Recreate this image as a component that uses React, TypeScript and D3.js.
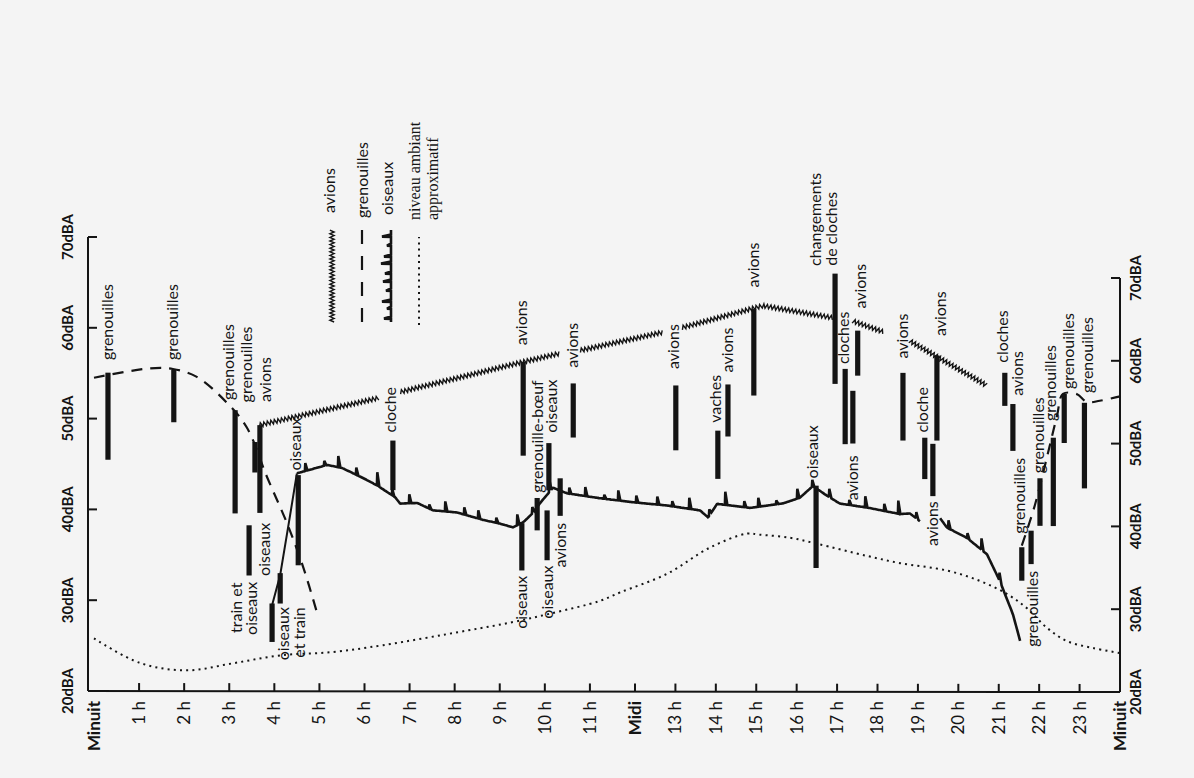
import React from 'react';
import * as d3 from 'd3';

type P = [number, number];

// ---------- DATA ----------
const hourLabels = ['Minuit','1 h','2 h','3 h','4 h','5 h','6 h','7 h','8 h','9 h','10 h','11 h','Midi','13 h','14 h','15 h','16 h','17 h','18 h','19 h','20 h','21 h','22 h','23 h','Minuit'];
const dbTicks = [20, 30, 40, 50, 60, 70];

// avions (zigzag) – [hour, dBA]
const avionsSegments: P[][] = [
  [[3.66, 49.7], [6.34, 53.1]],
  [[6.79, 53.8], [9.52, 57.6], [10.34, 58.7]],
  [[10.78, 59.1], [12.69, 61.5]],
  [[13.16, 62.1], [15.02, 64.8], [15.17, 65.0], [16.9, 63.9]],
  [[17.39, 63.6], [18.18, 62.4]],
  [[18.8, 61.5], [20.71, 56.5]],
];

// grenouilles (dashed)
const grenouillesSegments: P[][] = [
  [[0, 54.5], [1.24, 55.7], [1.75, 55.7], [2.28, 54.9], [2.95, 52.1], [3.39, 49.4], [3.84, 43.9], [4.28, 38.8], [4.64, 33.9], [4.95, 28.75]],
  [[21.57, 37.5], [21.89, 42.3], [22.19, 48.1], [22.44, 53.1], [22.59, 55.8], [22.94, 55.8], [23.18, 54.9], [23.5, 55.1], [24, 55.7]],
];

// oiseaux (spiky line)
const oiseauxRise: P[] = [[3.95, 29.6], [4.13, 33.0], [4.35, 39.7], [4.5, 44.4]];
const oiseauxSegments: P[][] = [
  [[4.5, 44.4], [5.17, 45.4], [5.5, 45.1], [5.97, 44.0], [6.28, 43.2], [6.68, 41.9], [6.79, 41.2], [7.17, 41.3], [7.52, 40.5], [8.05, 40.3], [8.63, 39.5], [9.01, 39.1], [9.29, 38.7], [9.52, 39.3], [9.74, 40.4], [9.89, 41.5], [10.18, 43.3], [10.49, 42.7], [11.22, 42.2], [11.95, 41.8], [12.79, 41.5], [13.61, 41.0], [13.81, 40.2], [14.03, 41.8], [14.85, 41.4], [15.66, 42.0], [16.08, 42.7], [16.4, 44.1], [16.75, 43.0], [17.07, 42.1], [17.74, 41.7], [18.56, 41.0], [18.8, 41.1], [19.05, 40.2]],
  [[19.55, 40.6], [19.72, 39.5], [20.22, 38.3], [20.71, 36.4], [21.03, 33.2], [21.35, 29.3], [21.53, 26.1]],
];

// niveau ambiant approximatif (dotted)
const ambiant: P[] = [[0, 25.8], [1.02, 23.1], [2.06, 22.3], [3.08, 23.1], [4.13, 24.0], [5.3, 24.4], [6.41, 25.2], [8.27, 26.9], [9.29, 27.9], [10.12, 28.9], [11.22, 30.4], [11.67, 31.4], [12.79, 33.6], [13.85, 36.7], [14.77, 38.4], [15.09, 38.3], [15.83, 38.0], [16.5, 37.35], [17.74, 36.0], [18.56, 35.2], [19.72, 34.4], [20.54, 33.2], [21.2, 31.7], [21.7, 30.0], [22.19, 27.7], [22.69, 26.1], [23.33, 25.3], [24, 24.7]];

// event bars: hour, top dBA, bottom dBA
const eventHours = [0.31, 1.77, 3.13, 3.57, 3.68, 3.44, 3.95, 4.13, 4.53, 6.63, 9.52, 9.49, 9.83, 10.05, 10.09, 10.34, 10.63, 13.01, 14.05, 14.3, 14.94, 16.48, 16.95, 17.2, 17.39, 17.51, 18.63, 19.17, 19.37, 19.47, 21.15, 21.35, 21.57, 21.8, 22.02, 22.35, 22.62, 23.12];
const eventTop = [55.1, 55.6, 51.3, 47.8, 49.7, 38.5, 29.8, 33.2, 44.2, 48.3, 57.6, 39.2, 42.1, 40.7, 48.4, 44.4, 55.3, 55.4, 50.3, 55.7, 64.6, 44.15, 69.1, 57.95, 55.4, 62.5, 57.7, 50.1, 49.4, 59.9, 58.1, 54.4, 37.3, 39.3, 45.6, 50.5, 55.8, 54.8];
const eventBottom = [45.5, 49.8, 39.8, 44.4, 39.9, 32.9, 25.5, 29.8, 34.1, 42.7, 46.9, 33.8, 38.4, 35.0, 43.0, 40.1, 49.1, 47.9, 44.7, 49.65, 54.5, 34.5, 56.15, 49.1, 49.2, 57.2, 49.7, 45.2, 43.2, 49.8, 54.15, 48.8, 33.3, 35.3, 39.9, 39.9, 49.9, 44.5];

// annotations: hour, dBA, text, anchored at its lower end ('start') or upper end ('end')
const labels: { h: number; db: number; text: string; anchor: 'start' | 'end' }[] = [
  { h: 0.29, db: 56.5, text: 'grenouilles', anchor: 'start' },
  { h: 1.73, db: 56.7, text: 'grenouilles', anchor: 'start' },
  { h: 2.97, db: 52.4, text: 'grenouilles', anchor: 'start' },
  { h: 3.37, db: 52.2, text: 'grenouilles', anchor: 'start' },
  { h: 3.79, db: 52.3, text: 'avions', anchor: 'start' },
  { h: 3.77, db: 38.8, text: 'oiseaux', anchor: 'end' },
  { h: 3.15, db: 32.1, text: 'train et', anchor: 'end' },
  { h: 3.5, db: 32.2, text: 'oiseaux', anchor: 'end' },
  { h: 4.21, db: 29.4, text: 'oiseaux', anchor: 'end' },
  { h: 4.55, db: 29.4, text: 'et train', anchor: 'end' },
  { h: 4.46, db: 44.7, text: 'oiseaux', anchor: 'start' },
  { h: 6.57, db: 49.2, text: 'cloche', anchor: 'start' },
  { h: 9.49, db: 59.5, text: 'avions', anchor: 'start' },
  { h: 9.49, db: 33.2, text: 'oiseaux', anchor: 'end' },
  { h: 9.83, db: 42.7, text: 'grenouille-bœuf', anchor: 'start' },
  { h: 10.05, db: 34.4, text: 'oiseaux', anchor: 'end' },
  { h: 10.14, db: 49.6, text: 'oiseaux', anchor: 'start' },
  { h: 10.34, db: 39.3, text: 'avions', anchor: 'end' },
  { h: 10.6, db: 57.1, text: 'avions', anchor: 'start' },
  { h: 12.96, db: 57.3, text: 'avions', anchor: 'start' },
  { h: 13.98, db: 51.2, text: 'vaches', anchor: 'start' },
  { h: 14.28, db: 57.1, text: 'avions', anchor: 'start' },
  { h: 14.92, db: 67.1, text: 'avions', anchor: 'start' },
  { h: 16.4, db: 45.0, text: 'oiseaux', anchor: 'start' },
  { h: 16.45, db: 69.9, text: 'changements', anchor: 'start' },
  { h: 16.87, db: 70.0, text: 'de cloches', anchor: 'start' },
  { h: 17.15, db: 58.5, text: 'cloches', anchor: 'start' },
  { h: 17.39, db: 47.8, text: 'avions', anchor: 'end' },
  { h: 17.57, db: 65.1, text: 'avions', anchor: 'start' },
  { h: 18.61, db: 59.4, text: 'avions', anchor: 'start' },
  { h: 19.1, db: 50.7, text: 'cloche', anchor: 'start' },
  { h: 19.35, db: 42.6, text: 'avions', anchor: 'end' },
  { h: 19.55, db: 62.2, text: 'avions', anchor: 'start' },
  { h: 21.1, db: 59.3, text: 'cloches', anchor: 'start' },
  { h: 21.45, db: 55.4, text: 'avions', anchor: 'start' },
  { h: 21.52, db: 38.9, text: 'grenouilles', anchor: 'start' },
  { h: 21.82, db: 34.5, text: 'grenouilles', anchor: 'end' },
  { h: 21.97, db: 46.2, text: 'grenouilles', anchor: 'start' },
  { h: 22.27, db: 52.5, text: 'grenouilles', anchor: 'start' },
  { h: 22.72, db: 56.4, text: 'grenouilles', anchor: 'start' },
  { h: 23.19, db: 56.0, text: 'grenouilles', anchor: 'start' },
];

const legendNames = ['avions', 'grenouilles', 'oiseaux'];
const legendAmbiant = ['niveau ambiant', 'approximatif'];

// ---------- SCALES ----------
const W = 1194, H = 778;
const x = d3.scaleLinear().domain([0, 12, 24]).range([94, 635, 1120]);
const yLeft = d3.scaleLinear().domain([20, 70]).range([691, 237]);
const yRight = d3.scaleLinear().domain([20, 70]).range([692, 278]);
const yAt = (h: number, v: number) => {
  const t = Math.max(0, Math.min(1, h / 24));
  return yLeft(v) * (1 - t) + yRight(v) * t;
};
const toPx = (p: P): P => [x(p[0]), yAt(p[0], p[1])];

const smooth = d3.line<P>().x(d => d[0]).y(d => d[1]).curve(d3.curveCatmullRom.alpha(0.5));

const INK = '#141414';
const LABEL_FONT = "Lato, 'Open Sans', sans-serif";

function zigzagPath(pts: P[], amp: number, step: number): string {
  const segs: { x0: number; y0: number; x1: number; y1: number; len: number; start: number }[] = [];
  let total = 0;
  for (let i = 1; i < pts.length; i++) {
    const [x0, y0] = pts[i - 1], [x1, y1] = pts[i];
    const len = Math.hypot(x1 - x0, y1 - y0);
    segs.push({ x0, y0, x1, y1, len, start: total });
    total += len;
  }
  let d = '';
  let side = 1;
  for (let s = 0; s <= total; s += step) {
    const seg = segs.find(g => s <= g.start + g.len) || segs[segs.length - 1];
    const f = (s - seg.start) / seg.len;
    const xx = seg.x0 + (seg.x1 - seg.x0) * f, yy = seg.y0 + (seg.y1 - seg.y0) * f;
    const nx = -(seg.y1 - seg.y0) / seg.len, ny = (seg.x1 - seg.x0) / seg.len;
    d += (d ? 'L' : 'M') + (xx + nx * amp * side).toFixed(1) + ',' + (yy + ny * amp * side).toFixed(1);
    side = -side;
  }
  return d;
}

const SPIKE_GAPS = [14, 17, 12, 16, 19, 13, 15, 18];
const SPIKE_HEIGHTS = [8, 5, 11, 7, 13, 6, 9, 4, 10, 7];
const LEGEND_GAPS = [6, 8, 5, 9, 7];
const LEGEND_HEIGHTS = [7, 4, 9, 5, 8, 6, 10];

function spikyPath(pts: P[], first: number, gaps = SPIKE_GAPS, heights = SPIKE_HEIGHTS): string {
  const x0 = pts[0][0], x1 = pts[pts.length - 1][0];
  const yOf = (xx: number) => {
    for (let i = 1; i < pts.length; i++) {
      if (xx <= pts[i][0]) {
        const a = pts[i - 1], b = pts[i];
        const f = (xx - a[0]) / ((b[0] - a[0]) || 1);
        return a[1] + (b[1] - a[1]) * f;
      }
    }
    return pts[pts.length - 1][1];
  };
  let d = `M${x0.toFixed(1)},${yOf(x0).toFixed(1)}`;
  let next = x0 + first;
  let k = 0;
  for (let xx = x0 + 1; xx <= x1; xx += 1) {
    if (xx >= next && xx + 3 <= x1) {
      const yy = yOf(xx);
      const h = heights[k % heights.length];
      d += `L${xx.toFixed(1)},${yy.toFixed(1)}L${(xx + 0.4).toFixed(1)},${(yy - h).toFixed(1)}L${(xx + 2.5).toFixed(1)},${yOf(xx + 2.5).toFixed(1)}`;
      xx += 2;
      k++;
      next = xx + gaps[k % gaps.length];
    } else {
      d += `L${xx.toFixed(1)},${yOf(xx).toFixed(1)}`;
    }
  }
  return d;
}

function VText({ cx, cy, text, anchor, size = 16, weight = 400, family = LABEL_FONT }: { cx: number; cy: number; text: string; anchor: string; size?: number; weight?: number; family?: string }) {
  return (
    <text transform={`translate(${cx.toFixed(1)},${cy.toFixed(1)}) rotate(-90)`} textAnchor={anchor} dy="0.35em"
      fontFamily={family} fontSize={size} fontWeight={weight} fill={INK}>{text}</text>
  );
}

export default function App() {
  const hours = d3.range(0, 25);
  const bars = eventHours.map((h, i) => ({ h, top: eventTop[i], bottom: eventBottom[i] }));

  // legend oiseaux sample drawn horizontally then rotated
  const legendOiseaux = spikyPath([[0, 0], [92, 0]], 3, LEGEND_GAPS, LEGEND_HEIGHTS);

  return (
    <div style={{ position: 'absolute', left: 0, top: 0, width: W, height: H }}>
      <svg width={W} height={H} style={{ display: 'block' }}>
        <rect x={0} y={0} width={W} height={H} fill="#f4f4f4" />

        {/* axes */}
        <g stroke={INK} strokeWidth={2} fill="none">
          <line x1={x(0) - 6} y1={yLeft(70)} x2={x(0) - 6} y2={yLeft(20)} />
          <line x1={x(24)} y1={yRight(70)} x2={x(24)} y2={yRight(20)} />
          <line x1={x(0) - 6} y1={yLeft(20)} x2={x(24)} y2={yRight(20)} />
          {dbTicks.filter(v => v > 20).map(v => (
            <line key={'tl' + v} x1={x(0) - 6} x2={x(0) + 3} y1={yLeft(v)} y2={yLeft(v)} />
          ))}
          {dbTicks.filter(v => v > 20).map(v => (
            <line key={'tr' + v} x1={x(24)} x2={x(24) - 9} y1={yRight(v)} y2={yRight(v)} />
          ))}
          {hours.slice(1, 24).map(h => (
            <line key={'th' + h} x1={x(h)} x2={x(h)} y1={yAt(h, 20)} y2={yAt(h, 20) - 8} />
          ))}
        </g>

        {/* axis labels */}
        {dbTicks.map(v => (
          <VText key={'ll' + v} cx={68} cy={yLeft(v)} text={`${v}dBA`} anchor="middle" size={15} weight={700} />
        ))}
        {dbTicks.map(v => (
          <VText key={'rl' + v} cx={1136} cy={yRight(v)} text={`${v}dBA`} anchor="middle" size={15} weight={700} />
        ))}
        {hours.map(h => (
          <VText key={'hl' + h} cx={x(h)} cy={701} text={hourLabels[h]} anchor="end" size={17}
            weight={hourLabels[h].indexOf('h') < 0 ? 700 : 400} />
        ))}

        {/* ambient dotted */}
        <path d={smooth(ambiant.map(toPx)) || ''} fill="none" stroke={INK} strokeWidth={2} strokeDasharray="2 4.2" />

        {/* grenouilles dashed */}
        {grenouillesSegments.map((s, i) => (
          <path key={'g' + i} d={smooth(s.map(toPx)) || ''} fill="none" stroke={INK} strokeWidth={2.2} strokeDasharray="11 8" />
        ))}

        {/* avions zigzag */}
        {avionsSegments.map((s, i) => (
          <path key={'a' + i} d={zigzagPath(s.map(toPx), 2.1, 1.8)} fill="none" stroke={INK} strokeWidth={1.4} />
        ))}

        {/* oiseaux */}
        <path d={d3.line()(oiseauxRise.map(toPx)) || ''} fill="none" stroke={INK} strokeWidth={2} />
        {oiseauxSegments.map((s, i) => (
          <path key={'o' + i} d={spikyPath(s.map(toPx), i === 0 ? 8 : 8)} fill="none" stroke={INK} strokeWidth={2.6}
            strokeLinejoin="miter" strokeMiterlimit={2} />
        ))}

        {/* event bars */}
        {bars.map((b, i) => {
          const bx = x(b.h);
          const y1 = yAt(b.h, b.top), y2 = yAt(b.h, b.bottom);
          return <rect key={'b' + i} x={bx - 2.6} y={y1} width={5.2} height={y2 - y1} fill={INK} />;
        })}

        {/* annotations */}
        {labels.map((l, i) => (
          <VText key={'lab' + i} cx={x(l.h)} cy={yAt(l.h, l.db)} text={l.text} anchor={l.anchor} />
        ))}

        {/* legend */}
        <VText cx={329} cy={213} text={legendNames[0]} anchor="start" />
        <VText cx={362} cy={218} text={legendNames[1]} anchor="start" />
        <VText cx={387} cy={215} text={legendNames[2]} anchor="start" />
        <VText cx={414} cy={220} text={legendAmbiant[0]} anchor="start" size={16} family="'Liberation Serif', serif" />
        <VText cx={432} cy={220} text={legendAmbiant[1]} anchor="start" size={16} family="'Liberation Serif', serif" />
        <path d={zigzagPath([[332, 322], [332, 230]], 2.1, 1.8)} fill="none" stroke={INK} strokeWidth={1.4} />
        <line x1={362} x2={362} y1={322} y2={230} stroke={INK} strokeWidth={2.2} strokeDasharray="14 12" />
        <g transform="translate(391,322) rotate(-90)">
          <path d={legendOiseaux} fill="none" stroke={INK} strokeWidth={2.6} strokeLinejoin="miter" strokeMiterlimit={2} />
        </g>
        <line x1={419} x2={419} y1={325} y2={237} stroke={INK} strokeWidth={2} strokeDasharray="2 4.2" />
      </svg>
    </div>
  );
}
